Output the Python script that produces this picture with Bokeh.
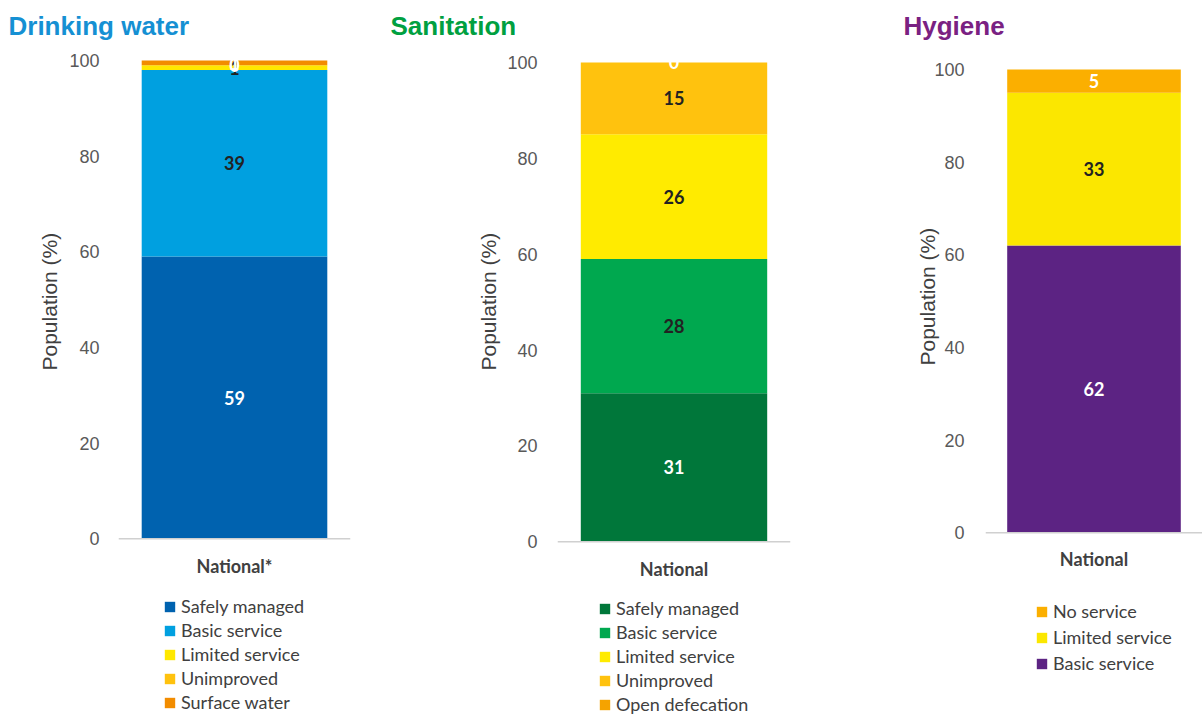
import numpy as np
from bokeh.plotting import figure
from bokeh.models import Range1d, FactorRange, Legend, LegendItem, Title, ColumnDataSource, FixedTicker, Span
from bokeh.layouts import row
from bokeh.embed import file_html
from bokeh.resources import INLINE

# ---------------- data ----------------
water_category = ["National*"]
water_labels = ["Safely managed", "Basic service", "Limited service", "Unimproved", "Surface water"]
water_values = [59, 39, 1, 0, 1]
water_colors = ["#0062AF", "#00A0E0", "#FFE800", "#FFC20E", "#F28C00"]
water_text_colors = ["white", "#222222", "#222222", "white", "white"]

san_category = ["National"]
san_labels = ["Safely managed", "Basic service", "Limited service", "Unimproved", "Open defecation"]
san_values = [31, 28, 26, 15, 0]
san_colors = ["#00773A", "#00A84F", "#FFEB00", "#FFC20E", "#F5A300"]
san_text_colors = ["white", "#222222", "#222222", "#222222", "white"]

hyg_category = ["National"]
hyg_labels = ["Basic service", "Limited service", "No service"]
hyg_values = [62, 33, 5]
hyg_colors = ["#5C2383", "#FBE700", "#FBAF00"]
hyg_text_colors = ["white", "#222222", "white"]

y_ticks = [0, 20, 40, 60, 80, 100]

TXT = "#404040"
H = 715
TOP = 47  # frame top (pixels)


def make_panel(title, title_color, title_offset, category, labels, values, colors, text_colors,
               legend_order, legend_xy, legend_spacing, width, bl, br, zero_px, hundred_px,
               cat_offset, tick_standoff, ylab_offset, ylab_standoff):
    span = zero_px - hundred_px
    y0 = -(H - zero_px) / span * 100
    y1 = 100 + (hundred_px - TOP) / span * 100
    p = figure(width=width, height=H, x_range=FactorRange(*category, range_padding=0),
               y_range=Range1d(y0, y1), output_backend="svg", toolbar_location=None,
               min_border_left=bl, min_border_right=br, min_border_top=TOP, min_border_bottom=0)
    p.title = Title(text=title, align="left", offset=title_offset, standoff=16,
                    text_font="Liberation Sans", text_font_size="26px",
                    text_font_style="bold", text_color=title_color)
    p.outline_line_color = None
    p.grid.visible = False
    p.xaxis.visible = False

    vals = np.array(values, dtype=float)
    tops = np.cumsum(vals)
    bottoms = tops - vals
    renderers = []
    for i, lab in enumerate(labels):
        src = ColumnDataSource(dict(x=category, bottom=[bottoms[i]], top=[tops[i]]))
        r = p.vbar(x="x", bottom="bottom", top="top", width=0.8, source=src,
                   fill_color=colors[i], line_color=None)
        renderers.append(r)
    tsrc = ColumnDataSource(dict(x=category * len(values), y=(bottoms + tops) / 2,
                                 t=[str(v) for v in values], c=text_colors))
    p.text(x="x", y="y", text="t", text_color="c", source=tsrc, text_align="center",
           text_baseline="middle", text_font_size="18px", text_font_style="bold",
           text_font={"value": "Lato"})

    # baseline (x axis line) and category label
    p.add_layout(Span(location=0, dimension="width", line_color="#D0D0D0", line_width=1.5))
    p.text(x=category, y=[0], text=category, text_align="center", text_baseline="middle",
           y_offset=cat_offset, text_font_size="18px", text_font_style="bold",
           text_color=TXT, text_font={"value": "Lato"})

    # y axis
    p.yaxis.ticker = FixedTicker(ticks=y_ticks)
    p.yaxis.axis_line_color = None
    p.yaxis.major_tick_line_color = None
    p.yaxis.minor_tick_line_color = None
    p.yaxis.major_label_text_font = "Liberation Sans"
    p.yaxis.major_label_text_font_size = "18px"
    p.yaxis.major_label_text_color = "#595959"
    p.yaxis.major_label_standoff = tick_standoff
    ytitle = Title(text="Population (%)", align="left", offset=ylab_offset, standoff=ylab_standoff,
                   text_font="Liberation Sans", text_font_size="21px",
                   text_font_style="normal", text_color=TXT)
    p.add_layout(ytitle, "left")

    items = [LegendItem(label=labels[i], renderers=[renderers[i]]) for i in legend_order]
    leg = Legend(items=items, location=legend_xy, orientation="vertical",
                 label_text_font="Lato", label_text_font_size="18px", label_text_color=TXT,
                 glyph_width=13, glyph_height=13, label_height=20, spacing=legend_spacing,
                 padding=0, margin=0, border_line_color=None, background_fill_alpha=0,
                 label_standoff=5)
    p.add_layout(leg, "center")
    return p


p1 = make_panel("Drinking water", "#1590D3", -110, water_category, water_labels, water_values,
                water_colors, water_text_colors, [0, 1, 2, 3, 4], (45, 2), 2,
                385, 118, 35, 538, 59, 27, 13, 345, 12)
p2 = make_panel("Sanitation", "#00A040", -167, san_category, san_labels, san_values,
                san_colors, san_text_colors, [0, 1, 2, 3, 4], (41, 0), 2,
                515, 172, 110, 541, 61, 27, 14, 345, 10)
p3 = make_panel("Hygiene", "#7A2182", -82, hyg_category, hyg_labels, hyg_values,
                hyg_colors, hyg_text_colors, [2, 1, 0], (50, 41), 4,
                302, 85, 0, 532, 68, 26, 15, 350, -14)

layout = row(p1, p2, p3, spacing=0)
open("out.html", "w").write(file_html(layout, INLINE))
